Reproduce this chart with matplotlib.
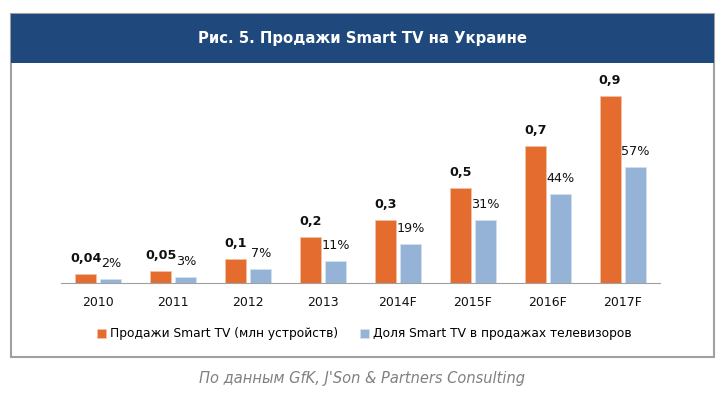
import matplotlib.pyplot as plt
import matplotlib.patches as mpatches
import numpy as np

years = ['2010', '2011', '2012', '2013', '2014F', '2015F', '2016F', '2017F']
sales = [0.045, 0.06, 0.12, 0.225, 0.31, 0.47, 0.675, 0.92]   # млн устройств
sales_lbl = ['0,04', '0,05', '0,1', '0,2', '0,3', '0,5', '0,7', '0,9']
share = [2, 3, 7, 11, 19, 31, 44, 57]                          # %
share_lbl = ['2%', '3%', '7%', '11%', '19%', '31%', '44%', '57%']

c_orange = '#E46C2E'
c_blue = '#95B3D7'
c_title = '#1F497D'

W, H = 719, 395
fig = plt.figure(figsize=(W / 100, H / 100), dpi=100)

def fx(px):
    return px / W

def fy(py):
    return 1 - py / H

# frame + title bar
fig.patches.append(mpatches.Rectangle((fx(11), fy(357)), fx(703), fy(14) - fy(357),
                                      transform=fig.transFigure, fill=False,
                                      edgecolor='#A0A0A0', linewidth=1.5))
fig.patches.append(mpatches.Rectangle((fx(11), fy(63)), fx(703), fy(14) - fy(63),
                                      transform=fig.transFigure, facecolor=c_title,
                                      edgecolor='none'))
fig.text(fx(362), fy(39), 'Рис. 5. Продажи Smart TV на Украине', color='white',
         fontsize=10.7, fontweight='bold', ha='center', va='center')

ax = fig.add_axes([fx(61), fy(283), fx(599), fy(80) - fy(283)])
ax2 = ax.twinx()

x = np.arange(len(years))
w = 0.28
b1 = ax.bar(x - 0.167, sales, w, color=c_orange, edgecolor='#F3C3A8', linewidth=0.5)
b2 = ax2.bar(x + 0.167, share, w, color=c_blue, edgecolor='#D5E1EF', linewidth=0.5)

ax.set_ylim(0, 1.0)
ax2.set_ylim(0, 100)
ax.set_xlim(-0.5, len(years) - 0.5)

for a in (ax, ax2):
    for s in ('top', 'left', 'right'):
        a.spines[s].set_visible(False)
    a.set_yticks([])
ax.spines['bottom'].set_color('#A0A0A0')
ax2.spines['bottom'].set_visible(False)
ax.set_xticks(x)
ax.set_xticklabels(years, fontsize=9, color='#111111')
ax.tick_params(axis='x', length=0, pad=9)

for r, t in zip(b1, sales_lbl):
    ax.annotate(t, (r.get_x() + r.get_width() / 2, r.get_height()),
                xytext=(0, 6.5), textcoords='offset points', ha='center', va='bottom',
                fontsize=9.2, fontweight='bold', color='#111111')
for r, t in zip(b2, share_lbl):
    ax2.annotate(t, (r.get_x() + r.get_width() / 2, r.get_height()),
                 xytext=(0, 6.5), textcoords='offset points', ha='center', va='bottom',
                 fontsize=9.2, color='#111111')

fig.legend([b1, b2], ['Продажи Smart TV (млн устройств)', 'Доля Smart TV в продажах телевизоров'],
           loc='center', bbox_to_anchor=(fx(364), fy(334)), ncol=2, frameon=False,
           fontsize=8.8, handlelength=0.75, handleheight=0.75, handletextpad=0.3,
           columnspacing=1.8)

fig.text(fx(362), fy(378), "По данным GfK, J'Son & Partners Consulting", color='#808080',
         fontsize=10.5, style='italic', ha='center', va='center')

fig.savefig('out.png', dpi=100)
